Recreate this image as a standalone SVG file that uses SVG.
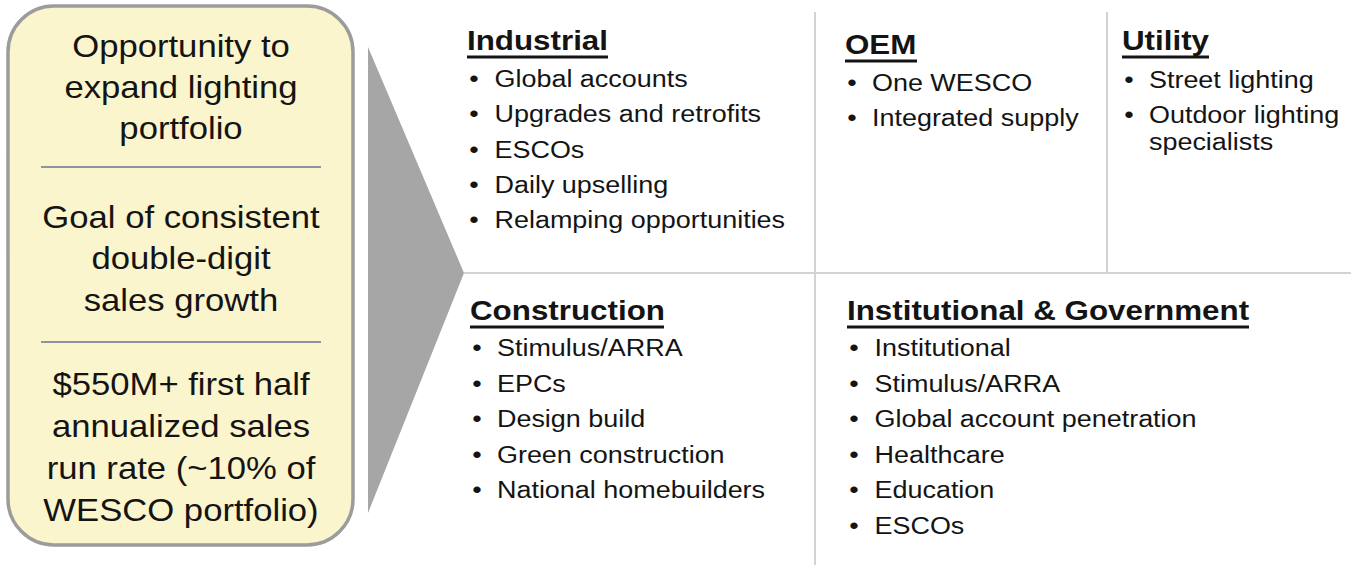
<svg xmlns="http://www.w3.org/2000/svg" width="1351" height="565" viewBox="0 0 1351 565">
  <style>
    text { font-family: "Liberation Sans", Arial, sans-serif; fill: #141414; }
    .lead { font-size: 31.5px; text-anchor: middle; }
    .head { font-size: 28.5px; font-weight: bold; }
    .item { font-size: 24.5px; }
    .grid line { stroke: #d3d3d3; stroke-width: 2; }
    .rule { stroke: #8b93a6; stroke-width: 2; }
    .uline { fill: #141414; }
  </style>

  <!-- summary panel on the left -->
  <g id="summary">
    <rect x="8" y="6" width="345" height="539" rx="46" ry="46" fill="#fbf5ce" stroke="#9c9c9c" stroke-width="3.5"/>
    <line class="rule" x1="41" y1="167" x2="321" y2="167"/>
    <line class="rule" x1="41" y1="342" x2="321" y2="342"/>
    <g transform="translate(181,0) scale(1.1,1)">
      <text class="lead" x="0" y="57">Opportunity to</text>
      <text class="lead" x="0" y="98">expand lighting</text>
      <text class="lead" x="0" y="139">portfolio</text>
      <text class="lead" x="0" y="228">Goal of consistent</text>
      <text class="lead" x="0" y="269.5">double-digit</text>
      <text class="lead" x="0" y="311">sales growth</text>
      <text class="lead" x="0" y="395">$550M+ first half</text>
      <text class="lead" x="0" y="437">annualized sales</text>
      <text class="lead" x="0" y="479">run rate (~10% of</text>
      <text class="lead" x="0" y="521">WESCO portfolio)</text>
    </g>
  </g>

  <!-- pointer shape -->
  <g id="chevron">
    <polygon points="368,47 464,273 368,513" fill="#a6a6a6"/>
  </g>

  <!-- quadrant separators -->
  <g id="connectors" class="grid">
    <line x1="464" y1="273" x2="1351" y2="273"/>
    <line x1="815" y1="12" x2="815" y2="565"/>
    <line x1="1107" y1="12" x2="1107" y2="273"/>
  </g>

  <g id="industrial">
    <rect class="uline" x="467" y="55.5" width="141" height="3"/>
    <g transform="translate(467,0) scale(1.1,1)">
      <text class="head" x="0" y="50">Industrial</text>
      <text class="item" x="2" y="87">•</text><text class="item" x="25" y="87">Global accounts</text>
      <text class="item" x="2" y="122.3">•</text><text class="item" x="25" y="122.3">Upgrades and retrofits</text>
      <text class="item" x="2" y="157.6">•</text><text class="item" x="25" y="157.6">ESCOs</text>
      <text class="item" x="2" y="192.9">•</text><text class="item" x="25" y="192.9">Daily upselling</text>
      <text class="item" x="2" y="228.2">•</text><text class="item" x="25" y="228.2">Relamping opportunities</text>
    </g>
  </g>

  <g id="oem">
    <rect class="uline" x="845" y="59.5" width="72" height="3"/>
    <g transform="translate(845,0) scale(1.1,1)">
      <text class="head" x="0" y="54">OEM</text>
      <text class="item" x="2" y="91">•</text><text class="item" x="24.5" y="91">One WESCO</text>
      <text class="item" x="2" y="126.5">•</text><text class="item" x="24.5" y="126.5">Integrated supply</text>
    </g>
  </g>

  <g id="utility">
    <rect class="uline" x="1122" y="55.5" width="87" height="3"/>
    <g transform="translate(1122,0) scale(1.1,1)">
      <text class="head" x="0" y="50">Utility</text>
      <text class="item" x="2" y="88">•</text><text class="item" x="24.5" y="88">Street lighting</text>
      <text class="item" x="2" y="123.5">•</text><text class="item" x="24.5" y="123.5">Outdoor lighting</text>
      <text class="item" x="24.5" y="150">specialists</text>
    </g>
  </g>

  <g id="construction">
    <rect class="uline" x="470" y="325.5" width="194" height="3"/>
    <g transform="translate(470,0) scale(1.1,1)">
      <text class="head" x="0" y="320">Construction</text>
      <text class="item" x="2" y="356.5">•</text><text class="item" x="24.5" y="356.5">Stimulus/ARRA</text>
      <text class="item" x="2" y="392">•</text><text class="item" x="24.5" y="392">EPCs</text>
      <text class="item" x="2" y="427.5">•</text><text class="item" x="24.5" y="427.5">Design build</text>
      <text class="item" x="2" y="463">•</text><text class="item" x="24.5" y="463">Green construction</text>
      <text class="item" x="2" y="498.5">•</text><text class="item" x="24.5" y="498.5">National homebuilders</text>
    </g>
  </g>

  <g id="institutional">
    <rect class="uline" x="847" y="325.5" width="402" height="3"/>
    <g transform="translate(847,0) scale(1.1,1)">
      <text class="head" x="0" y="320">Institutional &amp; Government</text>
      <text class="item" x="2" y="356.5">•</text><text class="item" x="25" y="356.5">Institutional</text>
      <text class="item" x="2" y="392">•</text><text class="item" x="25" y="392">Stimulus/ARRA</text>
      <text class="item" x="2" y="427.5">•</text><text class="item" x="25" y="427.5">Global account penetration</text>
      <text class="item" x="2" y="463">•</text><text class="item" x="25" y="463">Healthcare</text>
      <text class="item" x="2" y="498.5">•</text><text class="item" x="25" y="498.5">Education</text>
      <text class="item" x="2" y="534">•</text><text class="item" x="25" y="534">ESCOs</text>
    </g>
  </g>
</svg>
